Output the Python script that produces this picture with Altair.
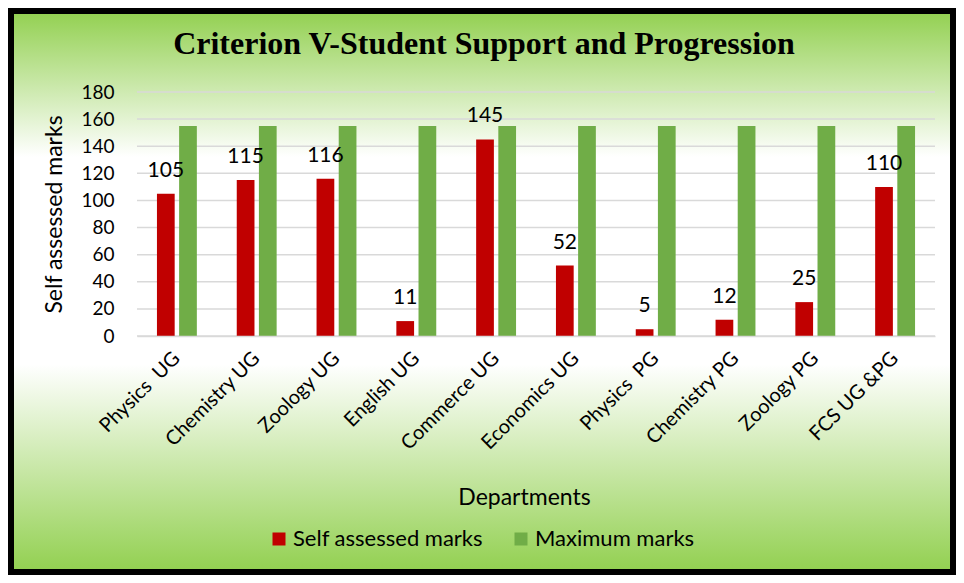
import altair as alt
import pandas as pd

departments = ["Physics  UG", "Chemistry UG", "Zoology UG", "English UG", "Commerce UG",
               "Economics UG", "Physics  PG", "Chemistry PG", "Zoology PG", "FCS UG &PG"]
self_marks = [105, 115, 116, 11, 145, 52, 5, 12, 25, 110]
max_marks = [155, 155, 155, 155, 155, 155, 155, 155, 155, 155]
series = ["Self assessed marks", "Maximum marks"]
colors = ["#C00000", "#70AD47"]
y_ticks = [0, 20, 40, 60, 80, 100, 120, 140, 160, 180]

rows = []
for d, s, m in zip(departments, self_marks, max_marks):
    rows.append({"Department": d, "Series": series[0], "Marks": s})
    rows.append({"Department": d, "Series": series[1], "Marks": m})
df = pd.DataFrame(rows)
df_self = df[df["Series"] == series[0]]

W, H = 798, 244
PL, PT, PR, PB = 129, 84, 21, 239
FONT = "Lato"

x_enc = alt.X("Department:N", sort=departments,
              scale=alt.Scale(domain=departments, paddingInner=0.5, paddingOuter=0.25),
              axis=alt.Axis(labelAngle=-45, labelAlign="right", labelBaseline="middle",
                            labelExpr="replace(datum.label, '  ', ' \u00a0')",
                            labelFontSize=20, labelFont=FONT, labelColor="black",
                            labelPadding=19, ticks=False, domain=True, domainColor="#D9D9D9",
                            domainWidth=1.5, title="Departments", titleFont=FONT,
                            titleFontSize=23, titleFontWeight="normal", titleColor="black",
                            titleX=387, titleY=161, titleBaseline="middle", zindex=1))
xo_enc = alt.XOffset("Series:N", sort=series,
                     scale=alt.Scale(domain=series, paddingInner=0.2))
y_axis = alt.Axis(values=y_ticks, grid=False, ticks=False, domain=False,
                  labelFontSize=19, labelFont=FONT, labelColor="black", labelPadding=23,
                  title="Self assessed marks", titleFont=FONT, titleFontSize=23,
                  titleFontWeight="normal", titleColor="black", titleX=-83, titleY=122,
                  titleAlign="center", titleBaseline="middle", zindex=1)
y_scale = alt.Scale(domain=[0, 180], nice=False)

bg = alt.Chart(pd.DataFrame({"a": [0]})).mark_rect(
    fill=alt.Gradient(gradient="linear", x1=0, x2=0, y1=0, y2=1,
                      stops=[alt.GradientStop(offset=0, color="#92D050"),
                             alt.GradientStop(offset=0.26, color="#FFFFFF"),
                             alt.GradientStop(offset=0.63, color="#FFFFFF"),
                             alt.GradientStop(offset=1, color="#92D050")]),
    stroke="black", strokeWidth=6
).encode(x=alt.value(-PL + 3), x2=alt.value(W + PR - 3),
         y=alt.value(-PT + 3), y2=alt.value(H + PB - 3))

grid = alt.Chart(pd.DataFrame({"v": y_ticks})).mark_rule(
    color="#D9D9D9", strokeWidth=1.5
).encode(y=alt.Y("v:Q", scale=y_scale, axis=y_axis))

bars = alt.Chart(df).mark_bar().encode(
    x=x_enc,
    xOffset=xo_enc,
    y=alt.Y("Marks:Q", scale=y_scale, axis=y_axis),
    color=alt.Color("Series:N", scale=alt.Scale(domain=series, range=colors),
                    legend=alt.Legend(orient="none", legendX=131, legendY=436,
                                      direction="horizontal", title=None,
                                      symbolType="square", symbolSize=169,
                                      symbolStrokeWidth=0, labelFontSize=22,
                                      labelFont=FONT, labelColor="black", labelLimit=400,
                                      columnPadding=27, labelOffset=3, padding=0))
)

labels = alt.Chart(df_self).mark_text(
    dy=-17, baseline="alphabetic", fontSize=21, font=FONT, color="black"
).encode(x=x_enc, xOffset=xo_enc,
         y=alt.Y("Marks:Q", scale=y_scale, axis=y_axis),
         text="Marks:Q")

chart = alt.layer(bg, grid, bars, labels).properties(
    width=W, height=H,
    padding={"left": PL, "top": PT, "right": PR, "bottom": PB},
    autosize=alt.AutoSizeParams(type="none"),
    title=alt.TitleParams("Criterion V-Student Support and Progression",
                          font="Liberation Serif", fontSize=32, fontWeight="bold",
                          color="black", anchor="middle", frame="group",
                          baseline="middle", dx=-52, offset=-68)
).configure_view(stroke=None)

chart.save("out.html", embed_options={"renderer": "svg", "actions": False})
